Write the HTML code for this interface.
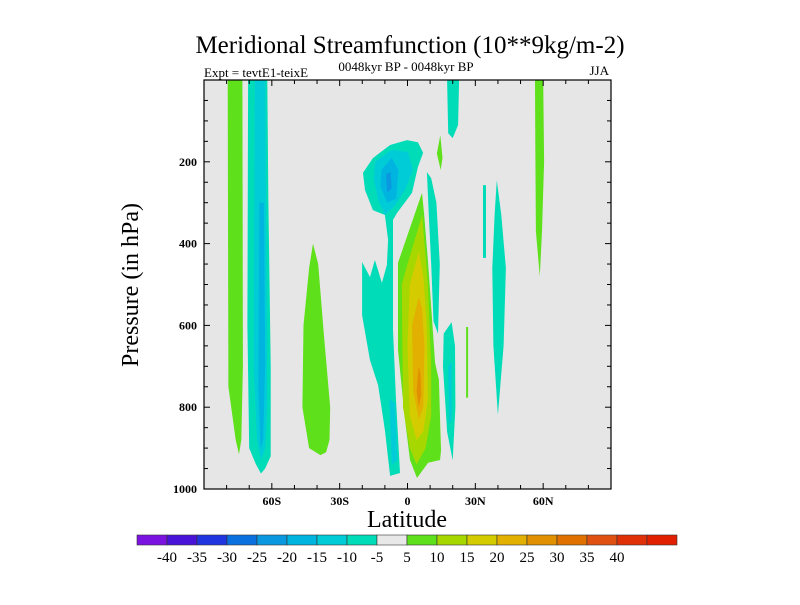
<!DOCTYPE html>
<html><head><meta charset="utf-8"><style>
body{margin:0;background:#fff}
svg text{font-family:"Liberation Serif",serif;fill:#000}
</style></head><body>
<svg id="c" width="800" height="600" xmlns="http://www.w3.org/2000/svg">
<text x="410" y="53" font-size="25" text-anchor="middle">Meridional Streamfunction (10**9kg/m-2)</text>
<text x="406" y="71" font-size="13" text-anchor="middle">0048kyr BP - 0048kyr BP</text>
<text x="204" y="77" font-size="13">Expt = tevtE1-teixE</text>
<text x="609" y="75" font-size="13" text-anchor="end">JJA</text>
<text x="407" y="527" font-size="24" text-anchor="middle">Latitude</text>
<text transform="translate(138,285) rotate(-90)" font-size="24" text-anchor="middle">Pressure (in hPa)</text>
<rect x="204" y="80" width="407" height="409" fill="#e6e6e6"/>
<g id="blobs"></g>
<g id="axes"></g>
<g id="cbar"></g>
</svg>
<script>
const colors=["#7a12e0","#4a14d8","#2034e0","#0a70e0","#0a98e0","#00b4e0","#00ccd8","#00dcb8","#e8e8e8","#5ee01a","#a6d800","#d4cc00","#e2b000","#e09000","#e07000","#e05010","#e03008","#e02000"];
const cbarLabels=["-40","-35","-30","-25","-20","-15","-10","-5","5","10","15","20","25","30","35","40"," "];
const xTicks=[-60,-30,0,30,60];
const xTickLabels=["60S","30S","0","30N","60N"];
const yTicks=[200,400,600,800,1000];
// contour regions: level index into colors, polygon in [lat, pressure]
const blobLevels=[9,7,6,5,9,7,6,5,4,6,9,10,11,12,13,7,9,7,6,9,7,7,7,9];
const blobShapes=[
[[-79.5,0],[-73,0],[-72.8,700],[-73.5,880],[-74.5,915],[-76,880],[-79.2,750]],
[[-70.5,0],[-62,0],[-61.5,300],[-60.5,700],[-60.5,920],[-63,950],[-64.8,962],[-67,940],[-70,900],[-70.8,600]],
[[-67.5,0],[-63,0],[-62.5,400],[-62,800],[-63,900],[-64.8,930],[-66.5,880],[-68,700]],
[[-65.5,300],[-63.5,300],[-63,700],[-63.8,880],[-65,900],[-66,750]],
[[-41.8,400],[-39.5,450],[-37,620],[-34.2,800],[-34.5,880],[-36,910],[-38.5,917],[-43.5,900],[-46.5,800],[-46,600],[-43.5,460]],
[[-19.7,227],[-15.3,191],[-7.7,159],[-0.2,147],[4.6,152],[6.9,178],[4.6,213],[2,276],[-4.6,325],[-6.4,342],[-6.4,447],[-6.4,611],[-5.1,782],[-3.3,961],[-7.7,968],[-10,856],[-13,746],[-16.6,685],[-20.1,575],[-20.1,445],[-16.6,482],[-14.4,440],[-11.3,496],[-9.1,452],[-8.6,391],[-10,330],[-15.3,318],[-18.8,269]],
[[-14.4,200],[-6.9,171],[0.2,176],[2.4,220],[-1.1,269],[-5.5,306],[-10,330],[-13,293],[-14.8,245]],
[[-11.5,220],[-7,190],[-4,220],[-5,290],[-9,300],[-12,260]],
[[-9.5,230],[-7.5,225],[-7,265],[-9,275]],
[[-8,780],[-5.5,790],[-4.5,930],[-7,940]],
[[6.4,276],[-4.2,447],[-4.2,660],[-1.1,831],[1.1,929],[4.2,973],[9.1,936],[14.4,929],[14.8,905],[13.9,733],[12.2,692],[9.1,447],[7.3,325]],
[[6.5,330],[0,450],[-2.5,500],[-2,800],[1,900],[4,940],[8,900],[10.5,820],[10.5,700],[9,500]],
[[5,420],[1,500],[0,650],[1,820],[4,880],[7,860],[9,780],[8.5,600],[7,480]],
[[5,530],[2,600],[2.5,760],[5,830],[7,800],[7.5,650],[6.5,560]],
[[5,700],[4,760],[5,800],[6,770],[5.8,720]],
[[8.6,225],[10.5,240],[12.8,300],[14.3,450],[13.5,620],[11.5,590],[10.5,450],[9.4,330]],
[[14.5,135],[15.5,190],[14.7,220],[13,180]],
[[19.5,592],[21,650],[21.2,800],[20,930],[17.5,860],[15.7,700],[16,620]],
[[18,700],[19.5,690],[19.5,830],[18.5,840]],
[[25.9,604],[26.8,604],[26.8,777],[25.9,777]],
[[17.5,0],[22.8,0],[22.4,110],[20,142],[18,130]],
[[33.4,257],[34.7,257],[34.7,435],[33.4,435]],
[[39.5,245],[41.5,330],[43.5,460],[42.5,650],[40,819],[38,650],[37.5,460],[38.5,330]],
[[56.4,0],[60,0],[60.4,200],[59.5,370],[58.5,480],[56.8,370],[56.5,150]]
];
const X0=204,X1=611,Y0=80,Y1=489;
const xs=lat=>X0+(lat+90)/180*(X1-X0);
const ys=p=>Y0+p/1000*(Y1-Y0);
const NS="http://www.w3.org/2000/svg";
function mk(tag,attrs,parent){const e=document.createElementNS(NS,tag);for(const k in attrs)e.setAttribute(k,attrs[k]);parent.appendChild(e);return e;}
const gb=document.getElementById('blobs');
blobShapes.forEach((s,i)=>{
 const el=mk('polygon',{points:s.map(q=>xs(q[0]).toFixed(1)+','+ys(q[1]).toFixed(1)).join(' '),fill:colors[blobLevels[i]]},gb);
 
 
});
const ga=document.getElementById('axes');
const fr=mk('rect',{x:X0,y:Y0,width:X1-X0,height:Y1-Y0,fill:'none',stroke:'#000','stroke-width':1.2},ga);


for(let lat=-80;lat<=80;lat+=10){
 const maj=lat%30===0,L=maj?6:4;
 mk('line',{x1:xs(lat),x2:xs(lat),y1:Y1,y2:Y1-L,stroke:'#000'},ga);
 mk('line',{x1:xs(lat),x2:xs(lat),y1:Y0,y2:Y0+L,stroke:'#000'},ga);
}
for(let p=50;p<1000;p+=50){
 const maj=p%200===0,L=maj?6:4;
 mk('line',{x1:X0,x2:X0+L,y1:ys(p),y2:ys(p),stroke:'#000'},ga);
 mk('line',{x1:X1,x2:X1-L,y1:ys(p),y2:ys(p),stroke:'#000'},ga);
}
xTicks.forEach((v,i)=>{
 const t=mk('text',{x:xs(v),y:Y1+16,'font-size':12,'font-weight':'bold','text-anchor':'middle'},ga);t.textContent=xTickLabels[i];
 
 
});
yTicks.forEach(v=>{
 const t=mk('text',{x:X0-7,y:ys(v)+4,'font-size':12,'font-weight':'bold','text-anchor':'end'},ga);t.textContent=v;
 
 
});
const gc=document.getElementById('cbar');
const cx0=137,cw=30,cy=535,ch=10;
colors.forEach((c,i)=>{
 const r=mk('rect',{x:cx0+i*cw,y:cy,width:cw,height:ch,fill:c,stroke:'#333','stroke-width':0.6},gc);
 
 
});
cbarLabels.forEach((l,i)=>{
 const t=mk('text',{x:cx0+(i+1)*cw,y:cy+27,'font-size':15,'text-anchor':'middle'},gc);t.textContent=l;
 
 
});
</script>
</body></html>
